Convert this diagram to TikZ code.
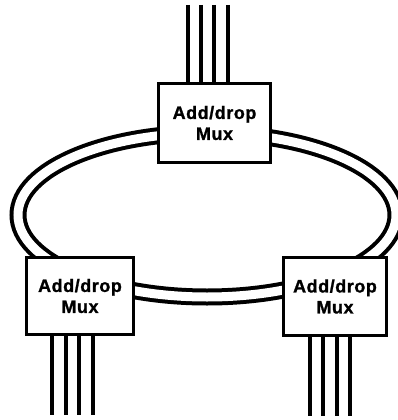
\documentclass[tikz,border=0pt]{standalone}
\usepackage{fontspec}
\setmainfont{Liberation Sans}
\newfontfamily\muxfont[FakeBold=1.2,LetterSpace=3]{Liberation Sans Bold}
\begin{document}
\begin{tikzpicture}[x=1pt,y=-1pt,
  mux/.style={draw, line width=3pt, fill=white, align=center, inner sep=0pt,
    font=\muxfont\fontsize{18}{21}\selectfont},
  ring/.style={double, double distance=9pt, line width=4pt},
  trib/.style={line width=4pt}]
\useasboundingbox (0,0) rectangle (398,420);
\draw[ring] (207,215) ellipse [x radius=189pt, y radius=82pt];
\node[mux, minimum width=112pt, minimum height=79pt] (T) at (214.5,123) {Add/drop\\Mux};
\node[mux, minimum width=107pt, minimum height=77pt] (L) at (80,296) {Add/drop\\Mux};
\node[mux, minimum width=103pt, minimum height=78pt] (R) at (335,296.5) {Add/drop\\Mux};
\foreach \i/\x in {1/188,2/201,3/214,4/228}{
  \coordinate (t\i) at (\x,5);
  \draw[trib] (t\i) -- (t\i |- T.north);
}
\foreach \i/\x in {1/52,2/66,3/79,4/93}{
  \coordinate (l\i) at (\x,415);
  \draw[trib] (L.south -| l\i) -- (l\i);
}
\foreach \i/\x in {1/310,2/323,3/337,4/350}{
  \coordinate (r\i) at (\x,416);
  \draw[trib] (R.south -| r\i) -- (r\i);
}
\end{tikzpicture}
\end{document}
